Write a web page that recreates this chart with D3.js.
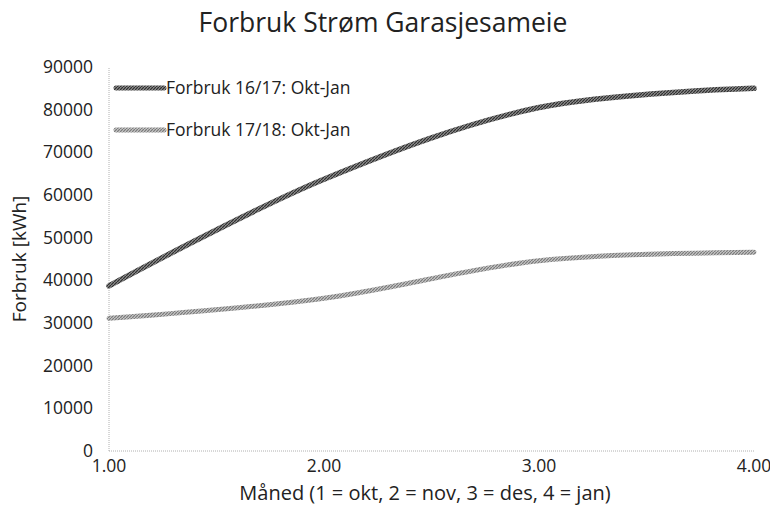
<!DOCTYPE html>
<html>
<head>
<meta charset="utf-8">
<script src="https://cdn.jsdelivr.net/npm/d3@7"></script>
<style>
  body { margin: 0; background: #fff; }
  text { font-family: "Open Sans", "Noto Sans", sans-serif; fill: #222; }
</style>
</head>
<body>
<svg width="770" height="519"></svg>
<script>
var width = 770;
var height = 519;

// data
var months = [1, 2, 3, 4];
var forbruk1617 = [38700, 63700, 80500, 85000];
var forbruk1718 = [31100, 35800, 44600, 46600];
var seriesNames = ["Forbruk 16/17: Okt-Jan", "Forbruk 17/18: Okt-Jan"];
var yTicks = [0, 10000, 20000, 30000, 40000, 50000, 60000, 70000, 80000, 90000];
var xTicks = [1, 2, 3, 4];

var margin = {left: 109, right: 16, top: 67, bottom: 68};

var svg = d3.select("svg").attr("width", width).attr("height", height);

// hatched textures for the thick lines
var defs = svg.append("defs");
function hatch(id, bg, fg){
  var p = defs.append("pattern")
  .attr("id", id)
  .attr("patternUnits", "userSpaceOnUse")
  .attr("width", 3).attr("height", 3);
  p.append("rect").attr("width", 3).attr("height", 3).attr("fill", bg);
  p.append("path").attr("d", "M0,3 L3,0").attr("stroke", fg).attr("stroke-width", 1.2);
}
hatch("hatchDark", "#8a8a8a", "#2e2e2e");
hatch("hatchLight", "#c4c4c4", "#7a7a7a");

var x = d3.scaleLinear().domain([1, 4]).range([margin.left, width - margin.right]);
var y = d3.scaleLinear().domain([0, 90000]).range([height - margin.bottom, margin.top]);

// axes: dotted light grey lines
var axisG = svg.append("g");
axisG.append("line")
.attr("x1", x(1)).attr("x2", x(4))
.attr("y1", y(0)).attr("y2", y(0))
.attr("stroke", "#b0b0b0").attr("stroke-dasharray", "1,1");
axisG.append("line")
.attr("x1", x(1)).attr("x2", x(1))
.attr("y1", y(0)).attr("y2", y(90000))
.attr("stroke", "#b0b0b0").attr("stroke-dasharray", "1,1");

axisG.selectAll("text.ytick").data(yTicks)
.enter()
.append("text")
.attr("class", "ytick")
.attr("x", margin.left - 16)
.attr("y", function(d){ return y(d); })
.attr("dy", "0.35em")
.attr("text-anchor", "end")
.attr("font-size", 17.5)
.text(function(d){ return d; });

axisG.selectAll("text.xtick").data(xTicks)
.enter()
.append("text")
.attr("class", "xtick")
.attr("x", function(d){ return x(d); })
.attr("y", y(0) + 21)
.attr("text-anchor", "middle")
.attr("font-size", 17.5)
.text(function(d){ return d3.format(".2f")(d); });

// lines
var line = d3.line()
.x(function(d, i){ return x(months[i]); })
.y(function(d){ return y(d); })
.curve(d3.curveCatmullRom);

svg.append("path")
.attr("d", line(forbruk1718))
.attr("fill", "none")
.attr("stroke", "url(#hatchLight)")
.attr("stroke-width", 5)
.attr("stroke-linecap", "round");

svg.append("path")
.attr("d", line(forbruk1617))
.attr("fill", "none")
.attr("stroke", "url(#hatchDark)")
.attr("stroke-width", 5.5)
.attr("stroke-linecap", "round");

// legend
var legend = svg.append("g");
var legendY = [88, 130];
var legendStroke = ["url(#hatchDark)", "url(#hatchLight)"];
seriesNames.forEach(function(name, i){
  legend.append("line")
  .attr("x1", 116).attr("x2", 164)
  .attr("y1", legendY[i]).attr("y2", legendY[i])
  .attr("stroke", legendStroke[i])
  .attr("stroke-width", 5)
  .attr("stroke-linecap", "round");
  legend.append("text")
  .attr("x", 166)
  .attr("y", legendY[i])
  .attr("dy", "0.35em")
  .attr("font-size", 17.5)
  .text(name);
});

// titles
svg.append("text")
.attr("x", 383)
.attr("y", 32)
.attr("text-anchor", "middle")
.attr("font-size", 26.5)
.text("Forbruk Strøm Garasjesameie");

svg.append("text")
.attr("x", 425)
.attr("y", 500)
.attr("text-anchor", "middle")
.attr("font-size", 20)
.text("Måned (1 = okt, 2 = nov, 3 = des, 4 = jan)");

svg.append("text")
.attr("transform", "translate(26," + 259 + ") rotate(-90)")
.attr("text-anchor", "middle")
.attr("font-size", 19)
.text("Forbruk [kWh]");
</script>
</body>
</html>
